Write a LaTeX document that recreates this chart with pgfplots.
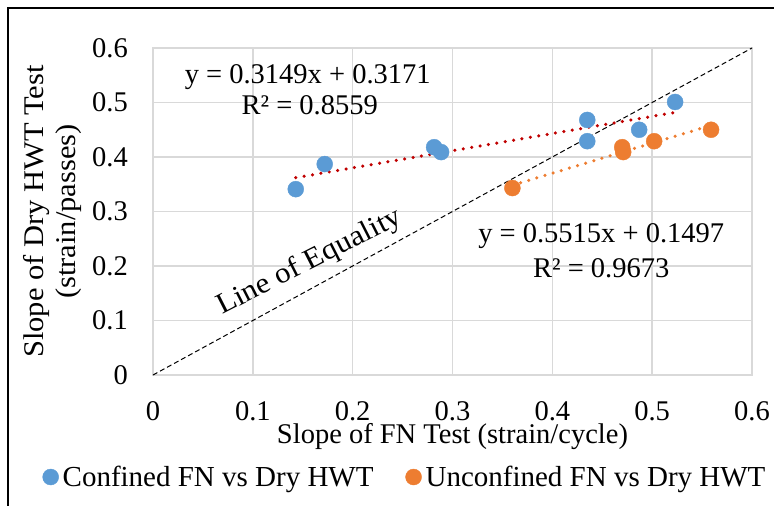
\documentclass[border=0pt]{standalone}
\usepackage{fontspec}
\setmainfont{Liberation Serif}
\newfontfamily\tallfont{Liberation Serif}[FakeStretch=1.07]
\usepackage{pgfplots}
\pgfplotsset{compat=1.18}
\definecolor{cblue}{HTML}{5B9BD5}
\definecolor{corange}{HTML}{ED7D31}
\definecolor{cred}{HTML}{C00000}
\definecolor{cgrid}{HTML}{D9D9D9}
\begin{document}
\begin{tikzpicture}[font=\fontsize{28.5}{34}\selectfont]
\begin{axis}[
  at={(153pt,131pt)}, anchor=south west,
  scale only axis, width=599pt, height=327pt,
  xmin=0, xmax=0.6, ymin=0, ymax=0.6,
  xtick={0,0.1,...,0.6}, ytick={0,0.1,...,0.6},
  xticklabels={0,0.1,0.2,0.3,0.4,0.5,0.6},
  yticklabels={0,0.1,0.2,0.3,0.4,0.5,0.6},
  grid=major, grid style={cgrid, line width=1.5pt},
  axis line style={draw=cgrid, line width=1.5pt},
  major tick length=0pt,
  /pgf/number format/assume math mode=true,
  xticklabel style={anchor=center, inner sep=0pt, yshift=-36pt},
  yticklabel style={anchor=east, inner sep=0pt, xshift=-25pt},
  xlabel={Slope of FN Test (strain/cycle)},
  xlabel style={at={(rel axis cs:0.5,0)}, anchor=center, inner sep=0pt, yshift=-62pt},
  ylabel={Slope of Dry HWT Test\\(strain/passes)},
  ylabel style={at={(axis description cs:-0.168,0.5)}, anchor=center, align=center, inner sep=0pt,
    font=\tallfont\fontsize{28.5}{32}\selectfont},
  legend style={at={(axis description cs:0.42,-0.312)}, anchor=center, draw=none, fill=none,
    legend columns=2, nodes={inner sep=1pt}, font=\fontsize{29}{34}\selectfont},
  legend image code/.code={\draw[mark=*,#1] plot coordinates {(0pt,0pt)};},
  /tikz/every odd column/.append style={column sep=3pt},
  /tikz/every even column/.append style={column sep=31pt},
  legend cell align=left,
  clip=false,
]
\addplot[black, dashed, line width=1pt, dash pattern=on 5pt off 3pt, forget plot] coordinates {(0,0) (0.6,0.6)};
\addplot[cred, line width=3.5pt, line cap=round, dash pattern=on 0pt off 8.5pt, forget plot] coordinates {(0.143,0.3621) (0.523,0.4818)};
\addplot[corange, line width=3.5pt, line cap=round, dash pattern=on 0pt off 8.5pt, forget plot] coordinates {(0.360,0.3482) (0.559,0.4580)};
\addplot[only marks, mark=*, mark size=8pt, color=cblue, mark options={draw=cblue, fill=cblue}] coordinates {
 (0.143,0.341) (0.172,0.387) (0.2816,0.418) (0.2886,0.409) (0.435,0.468) (0.435,0.429) (0.487,0.450) (0.523,0.501)};
\addlegendentry{Confined FN vs Dry HWT}
\addplot[only marks, mark=*, mark size=8pt, color=corange, mark options={draw=corange, fill=corange}] coordinates {
 (0.360,0.343) (0.470,0.418) (0.471,0.409) (0.502,0.429) (0.559,0.450)};
\addlegendentry{Unconfined FN vs Dry HWT}
\node[anchor=center, inner sep=0pt] at (axis cs:0.155,0.547) {y = 0.3149x + 0.3171};
\node[anchor=center, inner sep=0pt] at (axis cs:0.157,0.495) {R² = 0.8559};
\node[anchor=center, inner sep=0pt] at (axis cs:0.449,0.255) {y = 0.5515x + 0.1497};
\node[anchor=center, inner sep=0pt] at (axis cs:0.449,0.196) {R² = 0.9673};
\node[anchor=center, inner sep=0pt, rotate=27, font=\tallfont\fontsize{29}{34}\selectfont] at (axis cs:0.157,0.207) {Line of Equality};
\end{axis}
\draw[black, line width=1.5pt] (8pt,0pt) -- (8pt,498pt) -- (774pt,498pt);
\pgfresetboundingbox
\useasboundingbox (0pt,0pt) rectangle (774pt,506pt);
\end{tikzpicture}
\end{document}
